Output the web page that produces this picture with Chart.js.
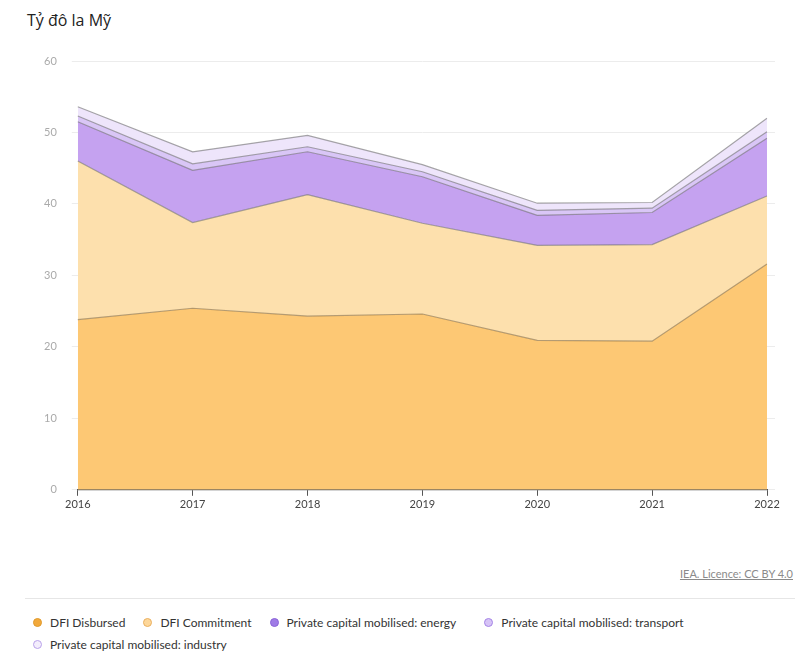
<!DOCTYPE html>
<html>
<head>
<meta charset="utf-8">
<script src="https://cdn.jsdelivr.net/npm/chart.js@4/dist/chart.umd.min.js"></script>
<style>
  body { margin: 0; background: #fff; font-family: "Lato", "Open Sans", sans-serif; }
  #wrap { position: relative; width: 800px; height: 662px; }
  #title { position: absolute; left: 27px; top: 9px; font-family: "Open Sans", sans-serif; font-size: 16px; color: #222; }
  #chartBox { position: absolute; left: 0; top: 0; width: 800px; height: 520px; }
  #credit { position: absolute; right: 7px; top: 567px; font-size: 11px; color: #8a8a8a; text-decoration: underline; }
  #rule { position: absolute; left: 25px; right: 5px; top: 598px; border-top: 1px solid #e6e6e6; }
  #legend { position: absolute; left: 33px; top: 611px; width: 760px; font-size: 12px; color: #333; }
  .item { display: inline-flex; align-items: center; margin-right: 18px; height: 22px; }
  .item.wide { margin-right: 28px; }
  .dot { width: 7px; height: 7px; border-radius: 50%; margin-right: 8px; border: 1.5px solid; }
</style>
</head>
<body>
<div id="wrap">
  <div id="title">Tỷ đô la Mỹ</div>
  <div id="chartBox"><canvas id="chart"></canvas></div>
  <div id="credit">IEA. Licence: CC BY 4.0</div>
  <div id="rule"></div>
  <div id="legend"></div>
</div>
<script>
const years = ['2016', '2017', '2018', '2019', '2020', '2021', '2022']
const dfiDisbursed = [23.8, 25.4, 24.3, 24.6, 20.9, 20.8, 31.6]
const dfiCommitment = [22.2, 12.0, 17.0, 12.7, 13.3, 13.5, 9.5]
const privateEnergy = [5.5, 7.3, 6.0, 6.5, 4.2, 4.5, 8.1]
const privateTransport = [0.8, 0.9, 0.7, 0.7, 0.7, 0.6, 0.9]
const privateIndustry = [1.3, 1.7, 1.6, 1.0, 1.0, 0.8, 1.9]

const series = [
    { label: 'DFI Disbursed', data: dfiDisbursed, fill: '#fdc874', dot: '#f2a93b', ring: '#e09a2c' },
    { label: 'DFI Commitment', data: dfiCommitment, fill: '#fde0ad', dot: '#fdd79a', ring: '#eab060' },
    { label: 'Private capital mobilised: energy', data: privateEnergy, fill: '#c5a2f0', dot: '#9f7be6', ring: '#8a63d8' },
    { label: 'Private capital mobilised: transport', data: privateTransport, fill: '#d9c6f6', dot: '#d6c3f6', ring: '#a584e6' },
    { label: 'Private capital mobilised: industry', data: privateIndustry, fill: '#eee5fb', dot: '#f3edfc', ring: '#b9a2ea' }
]

/** custom legend below the chart */
const legend = document.getElementById('legend')
series.forEach((s, i) => {
    legend.innerHTML += `<span class="item${i === 2 ? ' wide' : ''}"><span class="dot" style="background:${s.dot};border-color:${s.ring}"></span>${s.label}</span>`
})

const ctx = document.getElementById('chart').getContext('2d')
new Chart(ctx, {
    type: 'line',
    data: {
        labels: years,
        datasets: series.map((s, i) => ({
            label: s.label,
            data: s.data,
            backgroundColor: s.fill,
            borderColor: i === 0 ? 'rgba(120,100,70,0.55)' : 'rgba(110,110,110,0.6)',
            borderWidth: 1.2,
            fill: i === 0 ? 'origin' : '-1',
            pointRadius: 0,
            tension: 0
        }))
    },
    options: {
        responsive: true,
        maintainAspectRatio: false,
        animation: false,
        layout: { padding: { left: 29, right: 25, top: 61, bottom: 7 } },
        plugins: { legend: { display: false }, tooltip: { enabled: false } },
        scales: {
            x: {
                offset: false,
                grid: { drawOnChartArea: false, drawTicks: true, tickLength: 6, color: '#555' },
                border: { display: true, color: '#555', width: 1.2 },
                ticks: { color: '#444', font: { family: 'Lato', size: 11 }, padding: 2, maxRotation: 0 }
            },
            y: {
                stacked: true,
                min: 0,
                max: 60,
                grid: { color: '#ececec', tickLength: 6 },
                border: { display: false },
                ticks: { stepSize: 10, color: '#aaa', font: { family: 'Lato', size: 11 }, padding: 15 }
            },
            y2: {
                position: 'right',
                min: 0,
                max: 60,
                grid: { drawOnChartArea: false, color: '#ececec', tickLength: 8 },
                border: { display: false },
                ticks: { display: false, stepSize: 10 }
            }
        }
    }
})
</script>
</body>
</html>
